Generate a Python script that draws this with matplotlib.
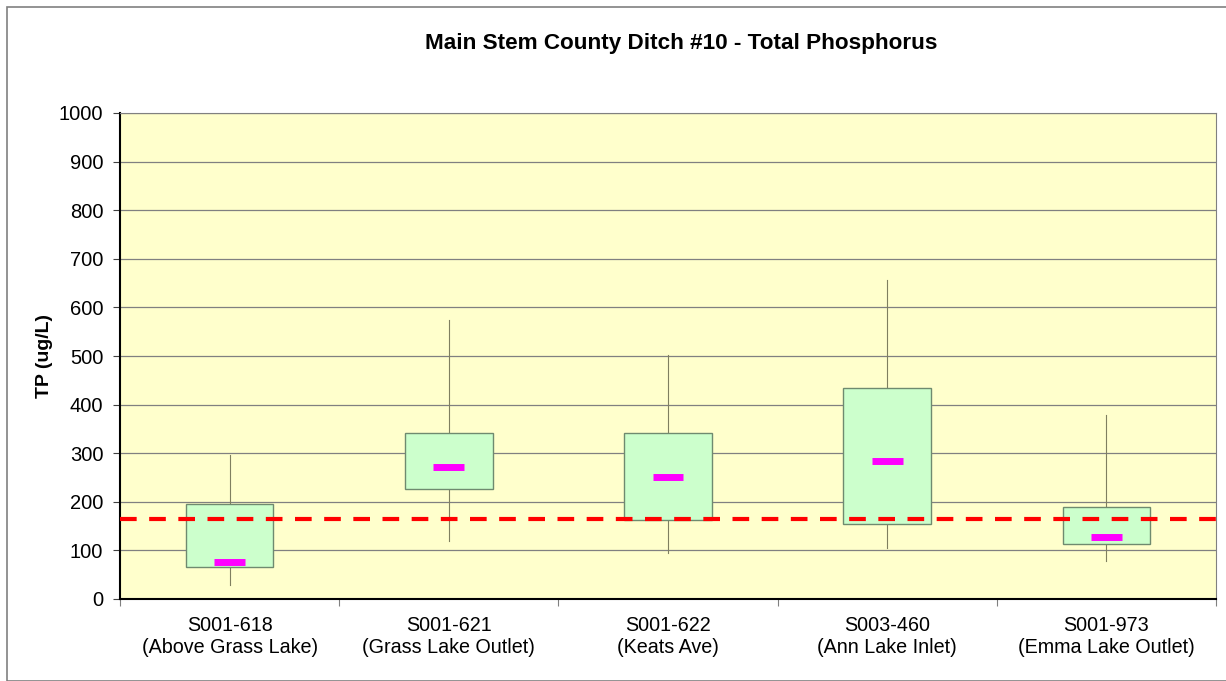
import numpy as np
import matplotlib.pyplot as plt
from matplotlib.patches import Rectangle

plt.rcParams['font.family'] = ['Liberation Sans', 'DejaVu Sans']

# Site labels and box-plot statistics (ug/L)
sites = ["S001-618\n(Above Grass Lake)", "S001-621\n(Grass Lake Outlet)",
         "S001-622\n(Keats Ave)", "S003-460\n(Ann Lake Inlet)",
         "S001-973\n(Emma Lake Outlet)"]
whisker_low = [29, 119, 95, 105, 78]
q1 = [66, 226, 163, 154, 113]
median = [76, 272, 251, 284, 128]
q3 = [195, 342, 342, 434, 189]
whisker_high = [296, 574, 502, 656, 379]
standard = 165

fig = plt.figure(figsize=(12.26, 6.81), dpi=100)
ax = fig.add_axes([120 / 1226, 1 - 599 / 681, 1096 / 1226, 486 / 681])
ax.set_facecolor('#FFFFCC')

x = np.arange(len(sites))
box_w = 0.4
med_w = 0.14
for i in x:
    ax.plot([i, i], [whisker_low[i], whisker_high[i]], color='#7f7f5f', lw=0.8, zorder=2)
    ax.add_patch(Rectangle((i - box_w / 2, q1[i]), box_w, q3[i] - q1[i],
                           facecolor='#CCFFCC', edgecolor='#6f8a6f', lw=1.0, zorder=3))
    ax.plot([i - med_w / 2, i + med_w / 2], [median[i], median[i]],
            color='#FF00FF', lw=5, solid_capstyle='butt', zorder=4)

ax.axhline(standard, color='#FF0000', lw=3, ls=(0, (4, 3)), zorder=5)

ax.set_xlim(-0.5, len(sites) - 0.5)
ax.set_ylim(0, 1000)
ax.set_yticks(np.arange(0, 1001, 100))
ax.set_xticks(np.arange(-0.5, len(sites), 1.0))
ax.set_xticklabels([])
ax.set_xticks(x, minor=True)
ax.set_xticklabels(sites, minor=True, fontsize=14.2, linespacing=1.25)
ax.tick_params(axis='x', which='minor', length=0, pad=12)
ax.tick_params(axis='x', which='major', length=5, color='#808080')
ax.tick_params(axis='y', labelsize=14.5, length=5, color='#404040', pad=7)
ax.grid(axis='y', color='#808080', lw=0.9, zorder=1)
ax.set_axisbelow(True)

for side in ['top', 'right']:
    ax.spines[side].set_color('#808080')
    ax.spines[side].set_linewidth(0.8)
ax.spines['left'].set_color('black')
ax.spines['bottom'].set_color('black')
ax.spines['left'].set_linewidth(1.5)
ax.spines['bottom'].set_linewidth(1.5)

ax.set_ylabel('TP (ug/L)', fontsize=14, fontweight='bold', labelpad=4)
fig.text(681 / 1226, 1 - 44 / 681, 'Main Stem County Ditch #10 - Total Phosphorus',
         ha='center', va='center', fontsize=16.2, fontweight='bold')

# outer frame
fig.patches.append(Rectangle((7 / 1226, 0), 1.0, 1 - 7 / 681, transform=fig.transFigure,
                             fill=False, edgecolor='#808080', lw=1.2))

fig.savefig('out.png', dpi=100)
